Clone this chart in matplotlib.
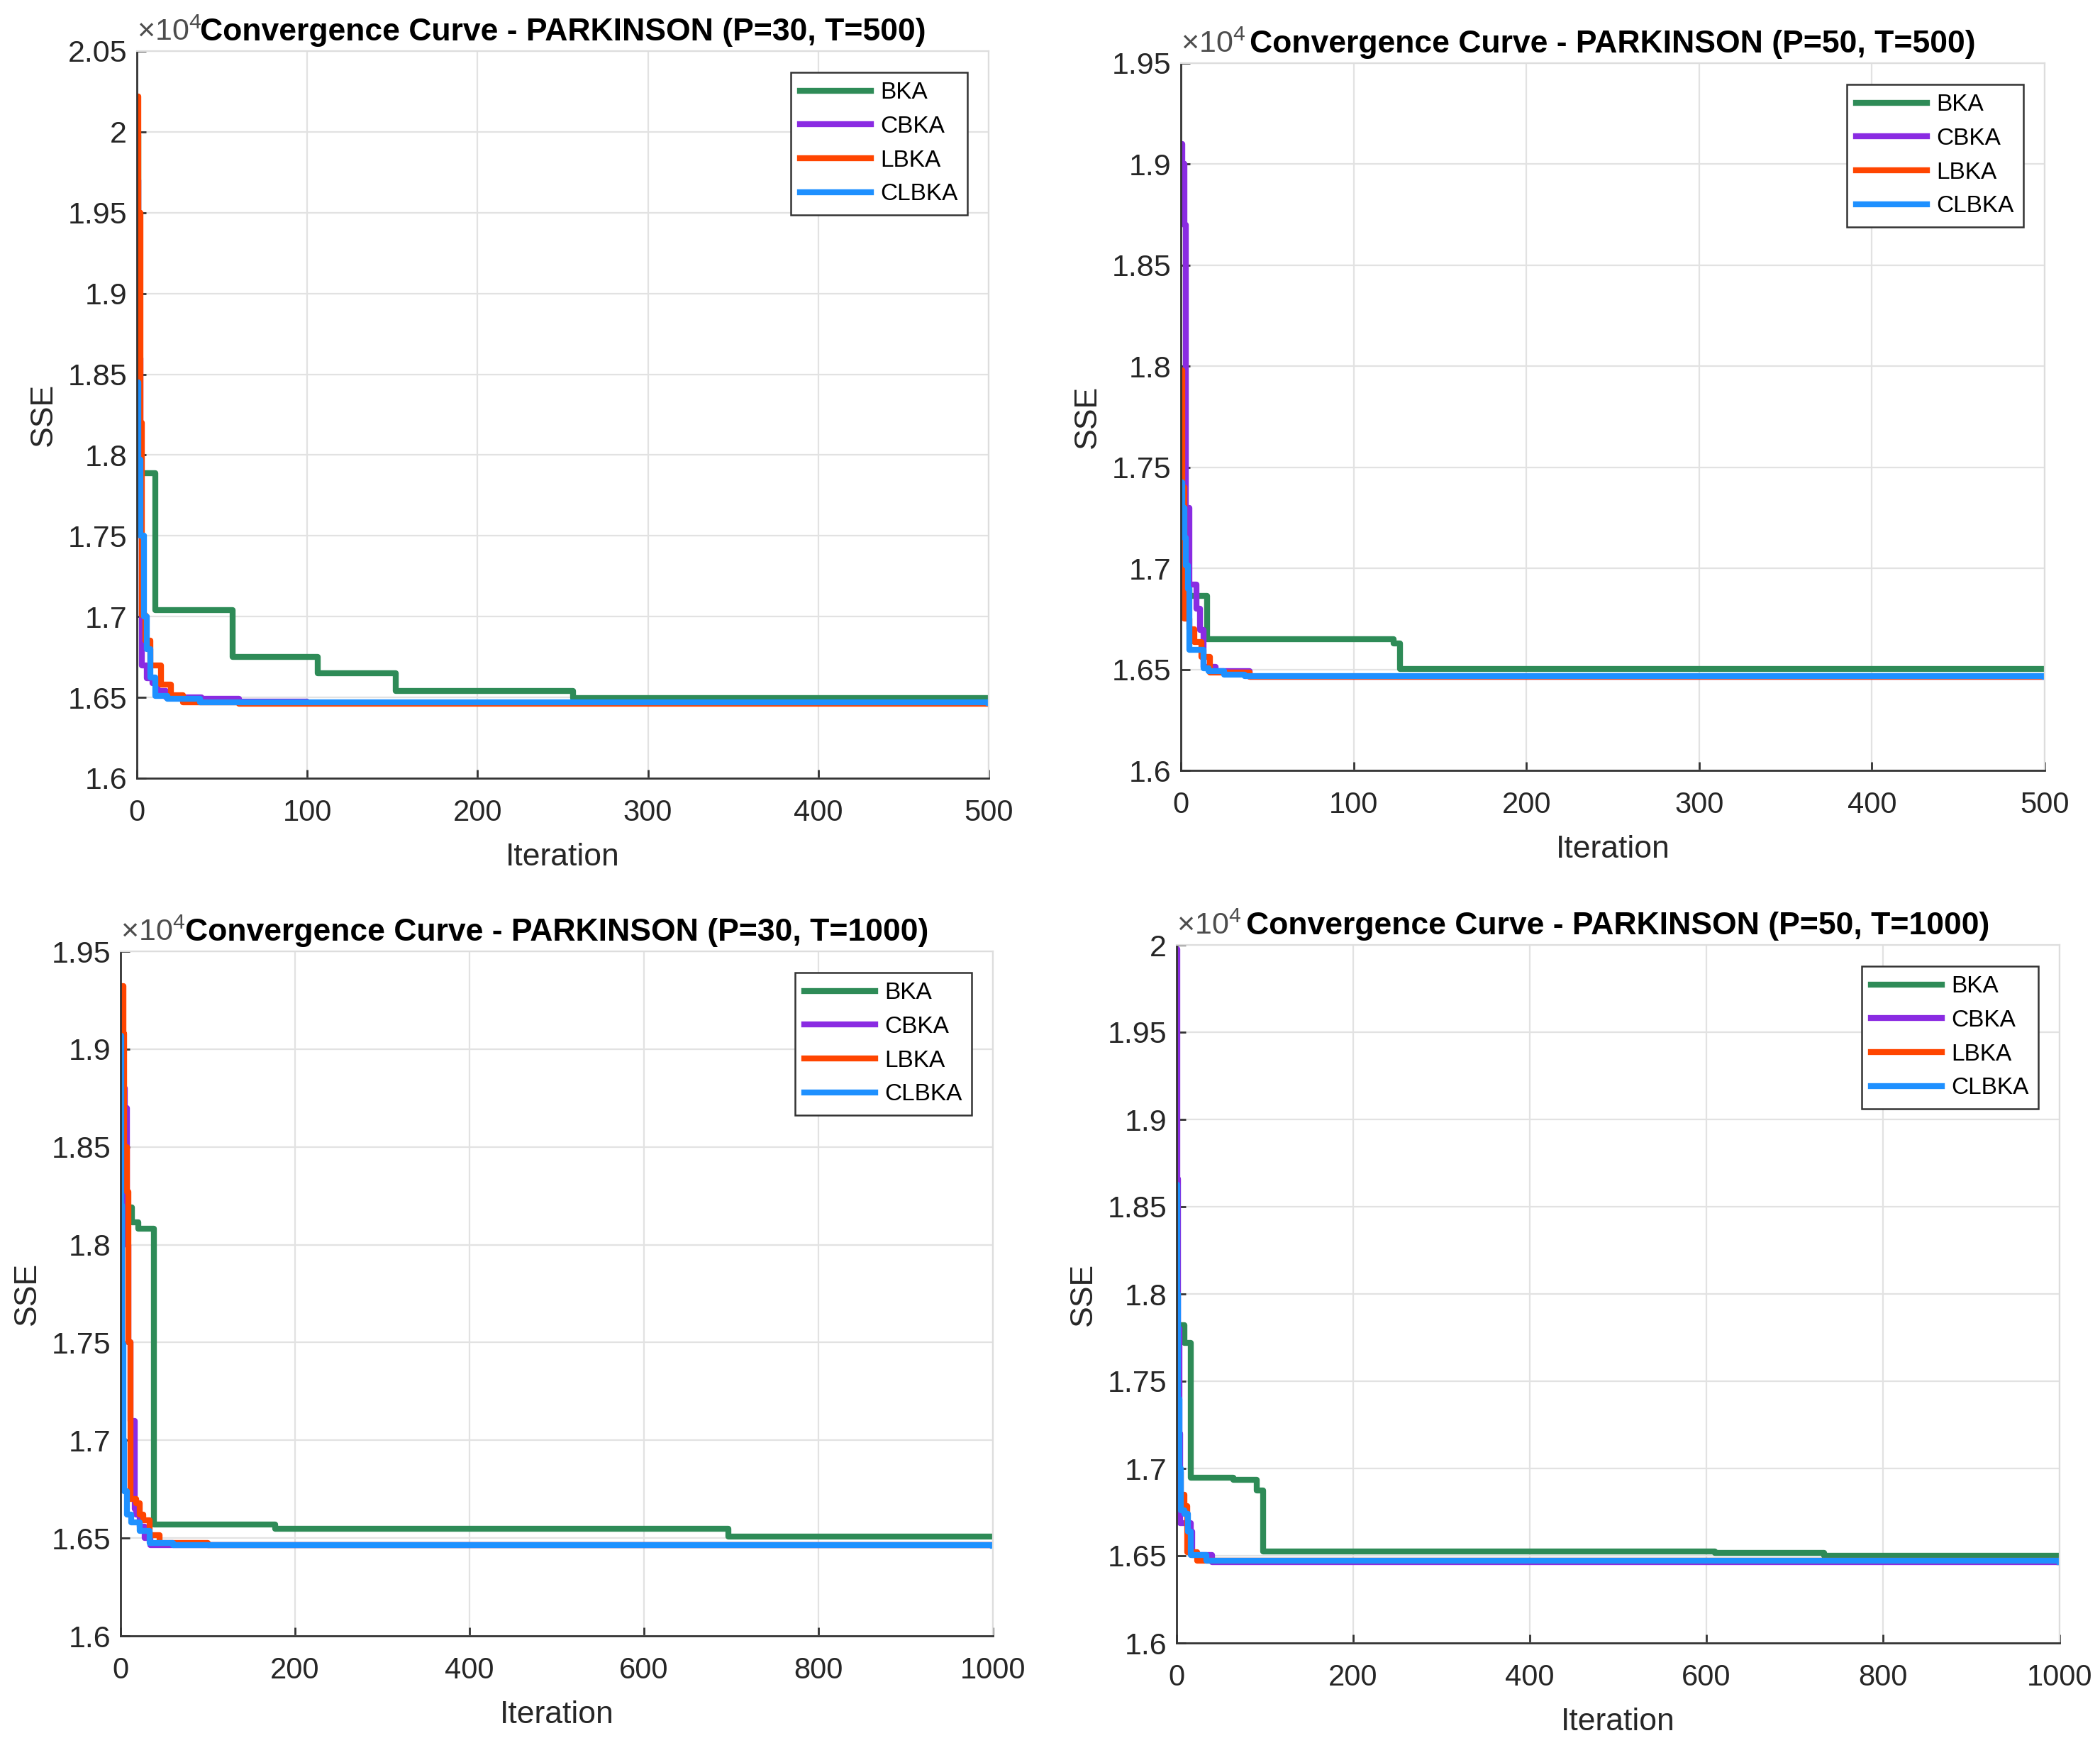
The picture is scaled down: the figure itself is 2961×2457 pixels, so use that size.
import numpy as np
import matplotlib
matplotlib.use("Agg")
import matplotlib.pyplot as plt
from matplotlib.ticker import FuncFormatter

plt.rcParams['font.family'] = ['Liberation Sans', 'DejaVu Sans']
plt.rcParams['mathtext.fontset'] = 'custom'
plt.rcParams['mathtext.rm'] = 'Liberation Sans'

algos = ['BKA', 'CBKA', 'LBKA', 'CLBKA']
colors = ['#2E8B57', '#8A2BE2', '#FF4500', '#1E90FF']

# ---- P=30, T=500 (iteration breakpoints, SSE value held from that iteration) ----
p30t500_bka_it = [0, 1, 11, 56, 106, 152, 256, 500]
p30t500_bka = [19980, 17890, 17040, 16750, 16650, 16540, 16495, 16495]
p30t500_cbka_it = [0, 1, 2, 3, 6, 9, 12, 17, 38, 60, 100, 500]
p30t500_cbka = [19700, 18600, 17500, 16700, 16620, 16590, 16540, 16500, 16490, 16475, 16465, 16465]
p30t500_lbka_it = [0, 1, 2, 3, 5, 8, 14, 20, 27, 60, 500]
p30t500_lbka = [20220, 19500, 18200, 17010, 16850, 16700, 16580, 16515, 16470, 16462, 16462]
p30t500_clbka_it = [0, 1, 2, 4, 6, 8, 11, 18, 37, 500]
p30t500_clbka = [18450, 17970, 17500, 17000, 16800, 16624, 16510, 16490, 16468, 16465]

# ---- P=50, T=500 ----
p50t500_bka_it = [0, 5, 15, 123, 127, 500]
p50t500_bka = [16920, 16865, 16650, 16627, 16502, 16502]
p50t500_cbka_it = [0, 1, 2, 3, 5, 9, 11, 13, 20, 40, 500]
p50t500_cbka = [19100, 19000, 18700, 17300, 16920, 16800, 16694, 16513, 16490, 16465, 16465]
p50t500_lbka_it = [0, 1, 2, 5, 8, 12, 17, 40, 500]
p50t500_lbka = [17980, 17400, 16752, 16700, 16637, 16560, 16485, 16462, 16462]
p50t500_clbka_it = [0, 1, 2, 3, 4, 5, 13, 16, 25, 37, 500]
p50t500_clbka = [17425, 17300, 17150, 17013, 16900, 16598, 16504, 16490, 16475, 16466, 16463]

# ---- P=30, T=1000 ----
p30t1000_bka_it = [0, 3, 13, 20, 38, 177, 697, 1000]
p30t1000_bka = [18600, 18190, 18113, 18083, 16570, 16548, 16508, 16508]
p30t1000_cbka_it = [0, 5, 7, 9, 11, 16, 18, 22, 28, 34, 1000]
p30t1000_cbka = [18800, 18700, 18000, 17500, 17100, 16650, 16620, 16560, 16500, 16466, 16463]
p30t1000_lbka_it = [0, 3, 4, 7, 9, 11, 18, 22, 26, 33, 45, 100, 1000]
p30t1000_lbka = [19324, 19080, 18500, 18270, 17500, 16700, 16680, 16620, 16590, 16515, 16475, 16465, 16465]
p30t1000_clbka_it = [0, 1, 2, 3, 4, 7, 12, 22, 33, 60, 1000]
p30t1000_clbka = [19069, 18200, 17490, 17000, 16740, 16620, 16580, 16535, 16475, 16465, 16462]

# ---- P=50, T=1000 ----
p50t1000_bka_it = [0, 9, 16, 64, 91, 98, 610, 733, 1000]
p50t1000_bka = [17820, 17720, 16947, 16935, 16875, 16525, 16516, 16500, 16500]
p50t1000_cbka_it = [0, 1, 2, 3, 4, 16, 18, 40, 1000]
p50t1000_cbka = [19976, 18660, 17800, 17200, 16685, 16637, 16505, 16465, 16463]
p50t1000_lbka_it = [0, 1, 5, 9, 12, 23, 1000]
p50t1000_lbka = [17315, 16980, 16850, 16786, 16520, 16472, 16462]
p50t1000_clbka_it = [0, 1, 2, 3, 5, 9, 13, 16, 34, 1000]
p50t1000_clbka = [18625, 18000, 17400, 17000, 16760, 16740, 16640, 16505, 16470, 16463]

panels = [
    dict(title='Convergence Curve - PARKINSON (P=30, T=500)',
         rect=(193, 72, 1394, 1097), T=500, ylim=(16000, 20500), ystep=500,
         xt=[0, 100, 200, 300, 400, 500],
         series=[(p30t500_bka_it, p30t500_bka), (p30t500_cbka_it, p30t500_cbka),
                 (p30t500_lbka_it, p30t500_lbka), (p30t500_clbka_it, p30t500_clbka)]),
    dict(title='Convergence Curve - PARKINSON (P=50, T=500)',
         rect=(1665, 89, 2883, 1086), T=500, ylim=(16000, 19500), ystep=500,
         xt=[0, 100, 200, 300, 400, 500],
         series=[(p50t500_bka_it, p50t500_bka), (p50t500_cbka_it, p50t500_cbka),
                 (p50t500_lbka_it, p50t500_lbka), (p50t500_clbka_it, p50t500_clbka)]),
    dict(title='Convergence Curve - PARKINSON (P=30, T=1000)',
         rect=(170, 1341, 1400, 2306), T=1000, ylim=(16000, 19500), ystep=500,
         xt=[0, 200, 400, 600, 800, 1000],
         series=[(p30t1000_bka_it, p30t1000_bka), (p30t1000_cbka_it, p30t1000_cbka),
                 (p30t1000_lbka_it, p30t1000_lbka), (p30t1000_clbka_it, p30t1000_clbka)]),
    dict(title='Convergence Curve - PARKINSON (P=50, T=1000)',
         rect=(1659, 1332, 2904, 2316), T=1000, ylim=(16000, 20000), ystep=500,
         xt=[0, 200, 400, 600, 800, 1000],
         series=[(p50t1000_bka_it, p50t1000_bka), (p50t1000_cbka_it, p50t1000_cbka),
                 (p50t1000_lbka_it, p50t1000_lbka), (p50t1000_clbka_it, p50t1000_clbka)]),
]

W, H = 2961, 2457
fig = plt.figure(figsize=(W / 100, H / 100), dpi=100)

for p in panels:
    l, t, r, b = p['rect']
    ax = fig.add_axes([l / W, 1 - b / H, (r - l) / W, (b - t) / H])
    for (it, val), name, c in zip(p['series'], algos, colors):
        ax.plot(it, val, drawstyle='steps-post', color=c, lw=6, label=name)

    ax.set_xlim(0, p['T'])
    ax.set_ylim(*p['ylim'])
    ax.set_xticks(p['xt'])
    ax.set_yticks(np.arange(p['ylim'][0], p['ylim'][1] + 1, p['ystep']))
    ax.yaxis.set_major_formatter(FuncFormatter(lambda v, pos: f'{v / 1e4:g}'))
    ax.grid(True, color='#e2e2e2', lw=1.6)
    ax.set_axisbelow(True)
    for s in ['left', 'bottom']:
        ax.spines[s].set_color('#333333')
        ax.spines[s].set_linewidth(2)
    for s in ['top', 'right']:
        ax.spines[s].set_color('#dddddd')
        ax.spines[s].set_linewidth(1.6)
    ax.tick_params(axis='both', direction='in', length=9, width=2, colors='#333333',
                   labelcolor='#262626')
    ax.tick_params(axis='x', pad=21, labelsize=30)
    ax.tick_params(axis='y', pad=10, labelsize=31)

    ax.set_xlabel('Iteration', fontsize=32, color='#262626', labelpad=16)
    ax.set_ylabel('SSE', fontsize=32, color='#262626', labelpad=10)
    ax.set_title(p['title'], fontsize=32, fontweight='bold', pad=11)
    ax.text(0.0, 1.006, '×10$^{4}$', transform=ax.transAxes,
            ha='left', va='bottom', fontsize=31, color='#4d4d4d', zorder=0)

    leg = ax.legend(loc='upper right', fontsize=24, handlelength=3.0,
                    fancybox=False, framealpha=1, edgecolor='#333333',
                    borderaxespad=0.9, labelspacing=0.5, borderpad=0.4,
                    handletextpad=0.4)
    leg.get_frame().set_linewidth(1.8)

fig.savefig('out.png', dpi=100)
